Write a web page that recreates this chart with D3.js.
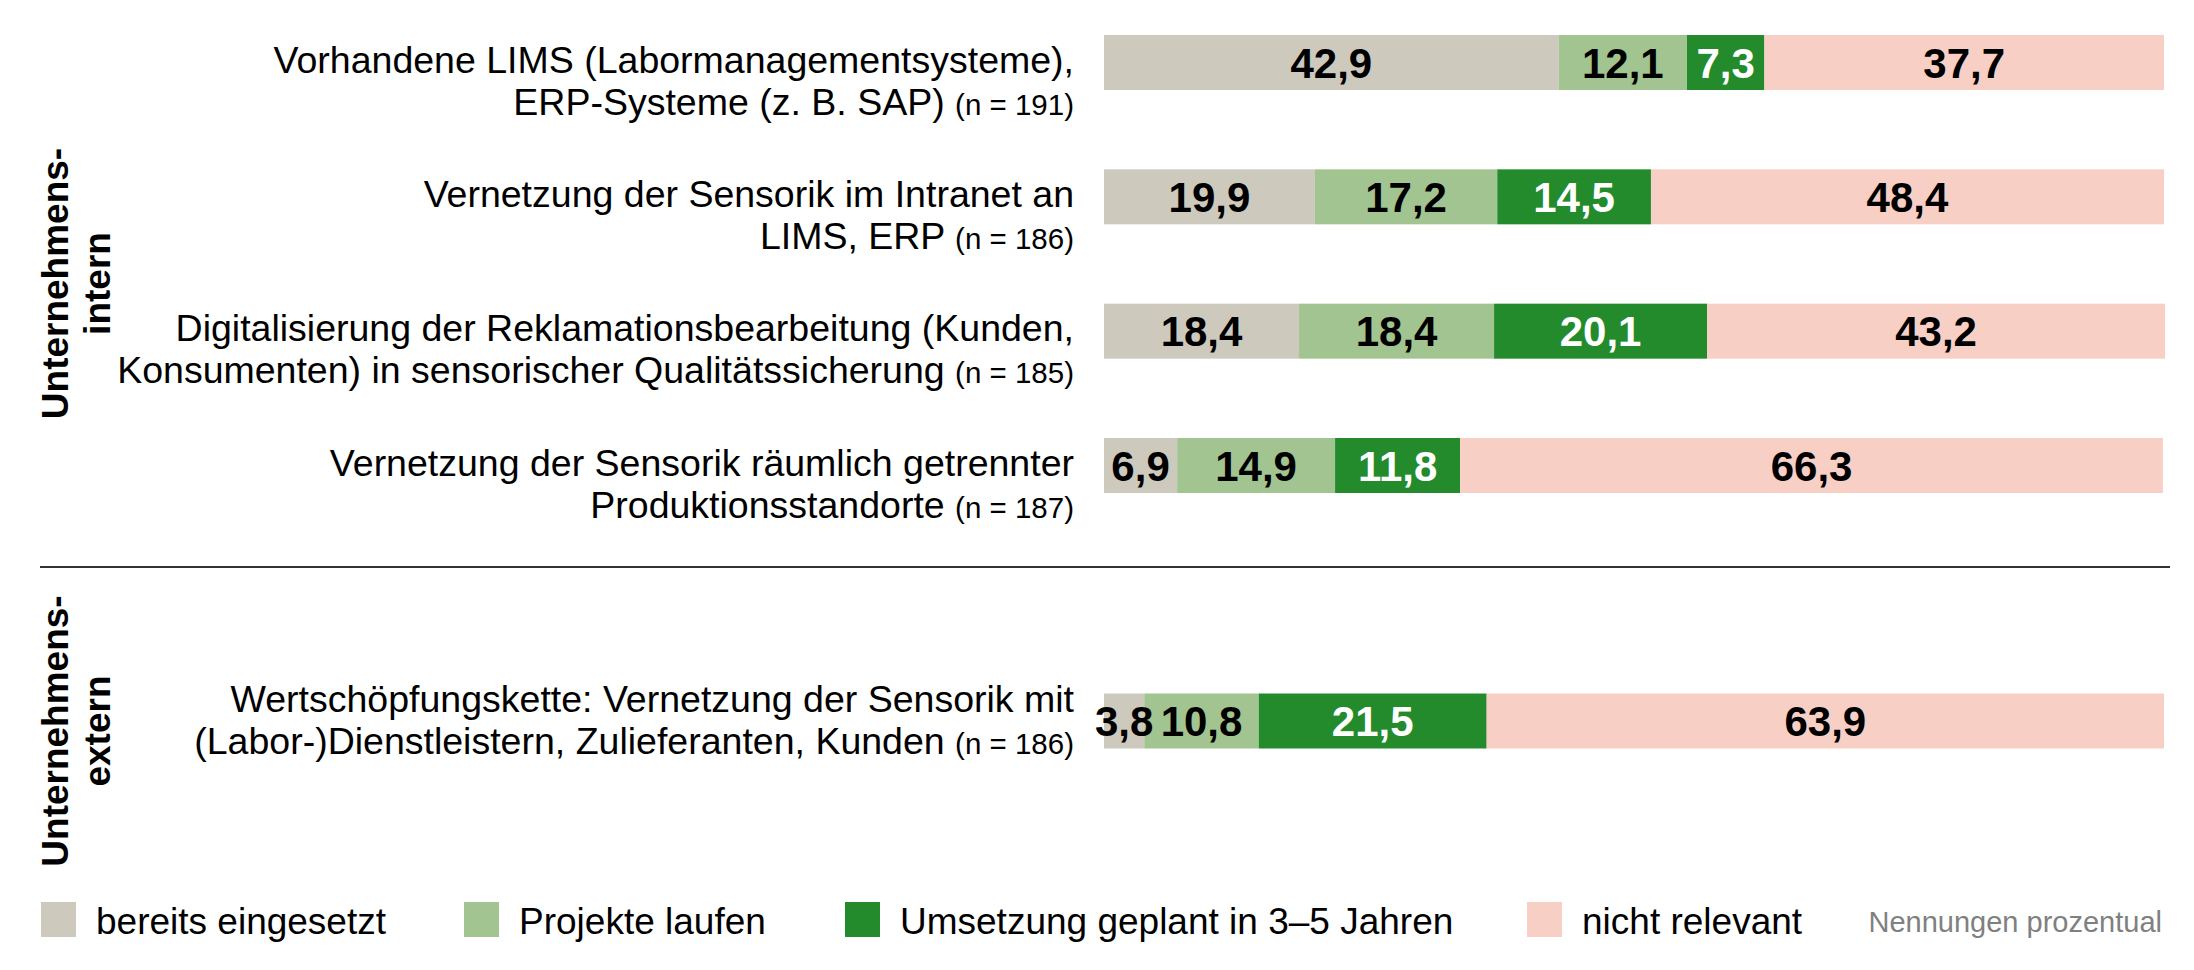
<!DOCTYPE html>
<html>
<head>
<meta charset="utf-8">
<script src="https://cdn.jsdelivr.net/npm/d3@7"></script>
<style>
  html, body { margin: 0; padding: 0; background: #fff; }
  svg { display: block; font-family: "Liberation Sans", Arial, sans-serif; }
</style>
</head>
<body>
<div class="chart"></div>
<script>
// the data
const categories = ['bereits eingesetzt', 'Projekte laufen', 'Umsetzung geplant in 3–5 Jahren', 'nicht relevant'];
const rowLines = [
    ['Vorhandene LIMS (Labormanagementsysteme),', 'ERP-Systeme (z. B. SAP)'],
    ['Vernetzung der Sensorik im Intranet an', 'LIMS, ERP'],
    ['Digitalisierung der Reklamationsbearbeitung (Kunden,', 'Konsumenten) in sensorischer Qualitätssicherung'],
    ['Vernetzung der Sensorik räumlich getrennter', 'Produktionsstandorte'],
    ['Wertschöpfungskette: Vernetzung der Sensorik mit', '(Labor-)Dienstleistern, Zulieferanten, Kunden']
];
const nValues = [191, 186, 185, 187, 186];
const rowGroups = ['intern', 'intern', 'intern', 'intern', 'extern'];
const bereits = [42.9, 19.9, 18.4, 6.9, 3.8];
const projekte = [12.1, 17.2, 18.4, 14.9, 10.8];
const geplant = [7.3, 14.5, 20.1, 11.8, 21.5];
const nichtRelevant = [37.7, 48.4, 43.2, 66.3, 63.9];
const groupLabels = {intern: ['Unternehmens-', 'intern'], extern: ['Unternehmens-', 'extern']};
const note = 'Nennungen prozentual';

const colors = ['#cdc9bd', '#a1c491', '#238b2c', '#f8cfc5'];
const textColors = ['#000', '#000', '#fff', '#000'];

const width = 2194, height = 970;
const svg = d3.select('.chart').append('svg').attr('width', width).attr('height', height);

// build a table for d3.stack
const keys = ['bereits', 'projekte', 'geplant', 'nicht'];
const table = rowLines.map((l, i) => ({
    id: i, group: rowGroups[i],
    bereits: bereits[i], projekte: projekte[i], geplant: geplant[i], nicht: nichtRelevant[i]
}));
const stacked = d3.stack().keys(keys)(table);

const x = d3.scaleLinear().domain([0, 100]).range([1104, 2164]);

// two vertical scales, one per block
const groupRange = {intern: [0, 567], extern: [567, 895]};
const yIntern = d3.scalePoint().domain(table.filter(d => d.group === 'intern').map(d => d.id)).range([62.5, 465.5]);
const yExtern = d3.scalePoint().domain(table.filter(d => d.group === 'extern').map(d => d.id)).range([721, 721]);
const yCenter = d => (d.group === 'intern' ? yIntern(d.id) : yExtern(d.id));
const barH = 55;

const de = d3.formatLocale({decimal: ',', thousands: '.', grouping: [3], currency: ['', '€']});
const fmt = de.format('.1f');

// bars
const layers = svg.selectAll('g.layer').data(stacked).join('g').attr('class', 'layer')
    .attr('fill', (d, i) => colors[i]);

layers.selectAll('rect').data(d => d).join('rect')
    .attr('x', d => x(d[0]))
    .attr('width', d => x(d[1]) - x(d[0]))
    .attr('y', d => yCenter(d.data) - barH / 2)
    .attr('height', barH);

// value labels, drawn after all bars so small segments stay readable
const valueLayers = svg.selectAll('g.values').data(stacked).join('g').attr('class', 'values');
valueLayers.each(function(layer, i){
    d3.select(this).selectAll('text').data(layer).join('text')
        .attr('x', d => (x(d[0]) + x(d[1])) / 2)
        .attr('y', d => yCenter(d.data) + 15)
        .attr('text-anchor', 'middle')
        .attr('font-size', 42)
        .attr('font-weight', 'bold')
        .attr('fill', textColors[i])
        .text(d => fmt(d[1] - d[0]));
});

// row labels
const labels = svg.selectAll('text.rowlabel').data(table).join('text')
    .attr('class', 'rowlabel')
    .attr('text-anchor', 'end')
    .attr('font-size', 37.5)
    .attr('fill', '#000');

labels.append('tspan')
    .attr('x', 1074)
    .attr('y', d => yCenter(d) + (d.group === 'intern' ? 10 : -9))
    .text(d => rowLines[d.id][0]);

const line2 = labels.append('tspan')
    .attr('x', 1074)
    .attr('y', d => yCenter(d) + (d.group === 'intern' ? 52 : 33));
line2.append('tspan').text(d => rowLines[d.id][1] + ' ');
line2.append('tspan').attr('font-size', 29.5).text(d => '(n = ' + nValues[d.id] + ')');

// group labels, rotated
Object.keys(groupLabels).forEach(g => {
    const mid = (groupRange[g][0] + groupRange[g][1]) / 2;
    groupLabels[g].forEach((t, j) => {
        svg.append('text')
            .attr('transform', 'translate(' + (68 + j * 42) + ',' + mid + ') rotate(-90)')
            .attr('text-anchor', 'middle')
            .attr('font-size', 37)
            .attr('font-weight', 'bold')
            .text(t);
    });
});

// separator between the blocks
svg.append('line')
    .attr('x1', 40).attr('x2', 2170)
    .attr('y1', groupRange.intern[1]).attr('y2', groupRange.intern[1])
    .attr('stroke', '#333').attr('stroke-width', 2);

// legend
const legendX = [41, 464, 845, 1527];
const legend = svg.selectAll('g.legend').data(categories).join('g').attr('class', 'legend')
    .attr('transform', (d, i) => 'translate(' + legendX[i] + ',902)');
legend.append('rect').attr('width', 35).attr('height', 35).attr('fill', (d, i) => colors[i]);
legend.append('text').attr('x', 55).attr('y', 32).attr('font-size', 37).text(d => d);

svg.append('text')
    .attr('x', 2162).attr('y', 932)
    .attr('text-anchor', 'end')
    .attr('font-size', 29)
    .attr('fill', '#808080')
    .text(note);
</script>
</body>
</html>
